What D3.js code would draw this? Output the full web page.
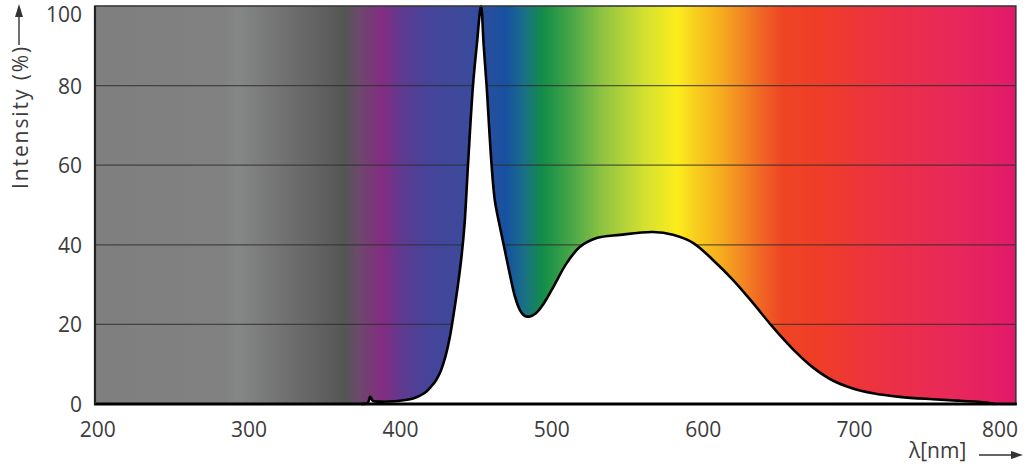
<!DOCTYPE html>
<html><head><meta charset="utf-8">
<script src="https://cdn.jsdelivr.net/npm/d3@7"></script>
<style>html,body{margin:0;padding:0;background:#fff;}svg{display:block;}</style>
</head><body>
<svg id="c" width="1024" height="469"></svg>
<script>
// Spectrum curve (wavelength nm, relative intensity %)
const wavelengths = [373.9,378.5,379.9,381.8,386.5,396.4,403.0,408.3,412.9,416.8,420.1,423.4,426.8,430.1,432.7,435.3,438.0,440.3,442.3,444.6,447.9,450.5,453.2,455.0,456.9,460.2,462.4,465.7,469.0,472.3,475.6,478.9,482.2,485.5,489.5,493.5,497.4,501.4,509.8,518.6,529.6,545.0,566.8,580.0,593.2,606.4,619.6,632.8,646.0,659.2,672.4,685.6,698.8,712.1,729.9,751.7,769.6,786.1,792.7];
const intensity   = [0,0.3,1.8,0.8,0.6,0.7,1.0,1.4,2.1,3.0,4.3,5.9,8.5,12.5,17,23,30,37,45,60,80,90.5,100,90,80,60,51,44.5,38.5,32.5,27,23.6,22.1,22.0,22.8,24.6,27.0,29.7,35.4,39.5,41.7,42.5,43.2,42.5,40.5,36.2,31.2,25.4,19.3,13.8,9.2,5.9,3.9,2.7,1.8,1.2,0.8,0.4,0];
// Background spectrum gradient stops (wavelength nm, colour)
const stopNm     = [198.2,284,292.7,330.3,363.3,371.9,387.8,401,418.2,444,470.4,481,494.2,512,533.9,560.3,582.8,596,610,623,636.5,652.8,677.3,721.5,765.1,806.5];
const stopColors = ["#7f7f7f","#818181","#858786","#6c6c6c","#545654","#6a4a6a","#842c82","#5e3a90","#45449a","#3c4a9c","#1652a0","#1a6e8a","#138d48","#45a548","#90c442","#d2e030","#fbed1c","#f8cc1e","#f6b01e","#f38f22","#f06a24","#ee4424","#ef3d28","#ec3045","#e8285a","#e2196a"];
const xTicks = [200,300,400,500,600,700,800];
const yTicks = [0,20,40,60,80,100];
const yGrid  = [20,40,60,80];

const svg = d3.select("#c");
const xMin = 198.2, xMax = 806.5;
const x = d3.scaleLinear().domain([200,800]).range([97.7,1006]);
const y = d3.scaleLinear().domain([0,100]).range([404,6]);
const L = x(xMin), R = x(xMax), T = y(100), B = y(0);

const defs = svg.append("defs");
const grad = defs.append("linearGradient").attr("id","spec")
  .attr("gradientUnits","userSpaceOnUse").attr("x1",L).attr("x2",R).attr("y1",0).attr("y2",0);
stopNm.forEach((n,i)=>{
  grad.append("stop").attr("offset",(x(n)-L)/(R-L)).attr("stop-color",stopColors[i]);
});

svg.append("rect").attr("x",L).attr("y",T).attr("width",R-L).attr("height",B-T).attr("fill","url(#spec)");

svg.append("g").selectAll("line").data(yGrid).join("line")
  .attr("x1",L).attr("x2",R).attr("y1",d=>y(d)).attr("y2",d=>y(d))
  .attr("stroke","#2e2e2e").attr("stroke-width",1.2).attr("stroke-opacity",0.75);

const pts = wavelengths.map((w,i)=>[w,intensity[i]]);
const curve = d3.curveCatmullRom.alpha(0.5);
const area = d3.area().x(d=>x(d[0])).y0(B).y1(d=>Math.min(B, y(d[1]))).curve(curve);
const line = d3.line().x(d=>x(d[0])).y(d=>y(d[1])).curve(curve);
svg.append("path").attr("d",area(pts)).attr("fill","#fff");
svg.append("path").attr("d",line(pts)).attr("fill","none").attr("stroke","#000").attr("stroke-width",2.6).attr("stroke-linejoin","round");

// frame
svg.append("rect").attr("x",L).attr("y",T).attr("width",R-L).attr("height",B-T)
  .attr("fill","none").attr("stroke","#3a3a3a").attr("stroke-width",1.6);
svg.append("line").attr("x1",L-1).attr("x2",R+1).attr("y1",B).attr("y2",B).attr("stroke","#000").attr("stroke-width",3.2);
svg.append("line").attr("x1",L).attr("x2",L).attr("y1",T).attr("y2",B).attr("stroke","#222").attr("stroke-width",2.2);

const font = "'Open Sans', 'Noto Sans', sans-serif";
// x tick labels
svg.append("g").selectAll("text").data(xTicks).join("text")
  .attr("x",d=>x(d) + (d===800?-6:0)).attr("y",437)
  .attr("text-anchor","middle").attr("font-family",font).attr("font-size",21).attr("fill","#3c3c3c")
  .text(d=>d);
// y tick labels
svg.append("g").selectAll("text").data(yTicks).join("text")
  .attr("x",82).attr("y",d=>d===100? 22 : y(d)+8)
  .attr("text-anchor","end").attr("font-family",font).attr("font-size",21).attr("fill","#3c3c3c")
  .text(d=>d);

// y axis title + arrow
svg.append("text").attr("transform","translate(28,189) rotate(-90)")
  .attr("font-family",font).attr("font-size",21).attr("letter-spacing",1.9).attr("fill","#3c3c3c").text("Intensity (%)");
svg.append("line").attr("x1",19).attr("x2",19).attr("y1",45).attr("y2",14).attr("stroke","#333").attr("stroke-width",1.4);
svg.append("path").attr("d","M19,4 L15,17 L23,17 Z").attr("fill","#333");

// x axis title + arrow
svg.append("text").attr("x",909).attr("y",458)
  .attr("font-family",font).attr("font-size",21).attr("fill","#3c3c3c").text("λ[nm]");
svg.append("line").attr("x1",979).attr("x2",1012).attr("y1",455).attr("y2",455).attr("stroke","#333").attr("stroke-width",1.4);
svg.append("path").attr("d","M1023,455 L1011,451 L1011,459 Z").attr("fill","#333");
</script>
</body></html>
